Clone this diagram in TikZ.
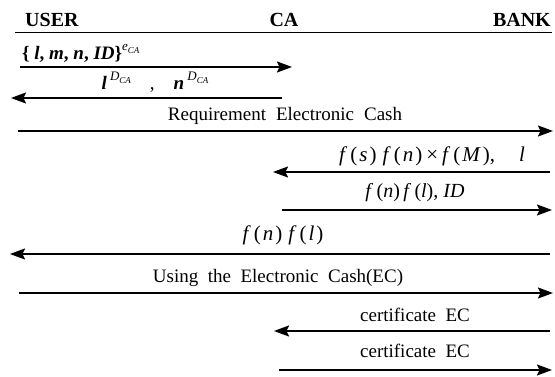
\documentclass[tikz,border=0pt]{standalone}
\usepackage{fontspec}
\setmainfont{Liberation Serif}
\usetikzlibrary{arrows.meta}
\newcommand{\vv}[1]{\textit{#1}}
\newcommand{\supsub}[2]{\raisebox{0.5em}{\fontsize{13}{14}\selectfont\textit{#1}\raisebox{-0.2em}{\fontsize{9}{10}\selectfont\textit{#2}}}}
\newcommand{\fn}[1]{\vv{f}\hspace{3pt}(\hspace{2pt}\vv{#1}\hspace{2pt})}
\begin{document}
\begin{tikzpicture}[x=1pt,y=-1pt,
  msg/.style={line width=1.8pt, -{Stealth[length=15pt,width=11pt,inset=2.5pt]}},
  lbl/.style={anchor=base, inner sep=0pt, font=\fontsize{19}{22}\selectfont},
  mlbl/.style={anchor=base, inner sep=0pt, font=\fontsize{21}{24}\selectfont},
  hdr/.style={anchor=base, inner sep=0pt, font=\fontsize{20}{24}\selectfont\bfseries}]
\useasboundingbox (0,0) rectangle (555,377);
% header
\node[hdr, anchor=base west] (user) at (25,27) {USER};
\node[hdr] (ca) at (284,27) {CA};
\node[hdr, anchor=base east] (bank) at (551,27) {BANK};
\coordinate (hl) at (15,33);
\coordinate (hr) at (552,33);
\draw[line width=1pt] (hl) -- (hr);
% message 1
\coordinate (m1s) at (20,67);
\coordinate (m1e) at (292,67);
\draw[msg] (m1s) -- (m1e);
\node[lbl, anchor=base west] (l1) at (22,60) {\textbf{\{ \vv{l}, \vv{m}, \vv{n}, \vv{ID}\}}\supsub{e}{CA}};
% message 2
\coordinate (m2s) at (282,98);
\coordinate (m2e) at (11,98);
\draw[msg] (m2s) -- (m2e);
\node[lbl] (l2) at (155,90) {\textbf{\vv{l}}\,\supsub{D}{CA}\quad,\quad\textbf{\vv{n}}\,\supsub{D}{CA}};
% message 3
\coordinate (m3s) at (18,131);
\coordinate (m3e) at (553,131);
\draw[msg] (m3s) -- (m3e);
\node[lbl] (l3) at (285,121) {Requirement\hspace{10pt}Electronic\hspace{10pt}Cash};
% message 4
\coordinate (m4s) at (550,172);
\coordinate (m4e) at (273,172);
\draw[msg] (m4s) -- (m4e);
\node[mlbl] (l4) at (432,162) {\fn{s}\hspace{6pt}\fn{n}\hspace{4pt}×\hspace{4pt}\fn{M},\hspace{24pt}\vv{l}};
% message 5
\coordinate (m5s) at (282,210);
\coordinate (m5e) at (552,210);
\draw[msg] (m5s) -- (m5e);
\node[mlbl, font=\fontsize{20}{23}\selectfont] (l5) at (415,198) {\vv{f}\,(\vv{n})\,\vv{f}\,(\vv{l}), \vv{ID}};
% message 6
\coordinate (m6s) at (550,254);
\coordinate (m6e) at (10,254);
\draw[msg] (m6s) -- (m6e);
\node[mlbl] (l6) at (283,241) {\fn{n}\hspace{6pt}\fn{l}};
% message 7
\coordinate (m7s) at (19,293);
\coordinate (m7e) at (553,293);
\draw[msg] (m7s) -- (m7e);
\node[lbl] (l7) at (278,283) {Using\ \ the\ \ Electronic\ \ Cash(EC)};
% message 8
\coordinate (m8s) at (550,331);
\coordinate (m8e) at (274,331);
\draw[msg] (m8s) -- (m8e);
\node[lbl] (l8) at (415,321) {certificate\ \ EC};
% message 9
\coordinate (m9s) at (279,370);
\coordinate (m9e) at (552,370);
\draw[msg] (m9s) -- (m9e);
\node[lbl] (l9) at (415,357) {certificate\ \ EC};
\end{tikzpicture}
\end{document}
